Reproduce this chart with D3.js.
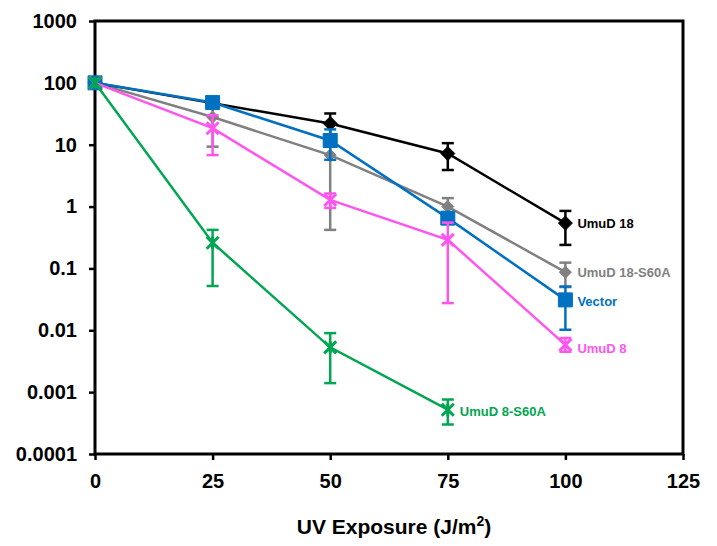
<!DOCTYPE html>
<html>
<head>
<meta charset="utf-8">
<script src="https://cdn.jsdelivr.net/npm/d3@7"></script>
<style>
  body { margin: 0; background: #fff; }
  text { font-family: "Liberation Sans", Arial, sans-serif; font-weight: bold; }
</style>
</head>
<body>
<svg id="chart" width="717" height="546"></svg>
<script>
// UV dose (J/m2)
const doses = [0, 25, 50, 75, 100];
const xTicks = [0, 25, 50, 75, 100, 125];
const yTicks = [0.0001, 0.001, 0.01, 0.1, 1, 10, 100, 1000];
const yTickLabels = ["0.0001", "0.001", "0.01", "0.1", "1", "10", "100", "1000"];

// survival (%) and error bar ends, null where no bar shows
const umud18 = [100, 47, 22, 7.2, 0.54];
const umud18Hi = [null, null, 32, 10.6, 0.85];
const umud18Lo = [null, null, 12, 3.9, 0.24];

const umud18S60A = [100, 28, 6.8, 1.0, 0.087];
const umud18S60AHi = [null, 47, 13, 1.37, 0.124];
const umud18S60ALo = [null, 9.3, 0.42, 0.63, 0.05];

const vector = [100, 48, 11.7, 0.65, 0.031];
const vectorHi = [null, null, 17.7, null, 0.051];
const vectorLo = [null, null, 5.7, null, 0.0102];

const umud8 = [100, 18.5, 1.28, 0.29, 0.0058];
const umud8Hi = [null, 30, 1.63, 0.55, 0.0075];
const umud8Lo = [null, 6.8, 0.95, 0.0275, 0.0045];

const umud8S60A = [100, 0.26, 0.0053, 0.00052];
const umud8S60AHi = [null, 0.42, 0.009, 0.00076];
const umud8S60ALo = [null, 0.052, 0.0014, 0.0003];

const width = 717, height = 546;
const margin = { top: 21, right: 34, bottom: 92, left: 95 };

const svg = d3.select("#chart");

const x = d3.scaleLinear()
  .domain([0, 125])
  .range([margin.left, width - margin.right]);

const y = d3.scaleLog()
  .domain([0.0001, 1000])
  .range([height - margin.bottom, margin.top]);

// series setup (drawing order matters for overlaps)
const series = [
  { name: "UmuD 18-S60A", values: umud18S60A, hi: umud18S60AHi, lo: umud18S60ALo, color: "#808080", marker: "diamond", size: 12, labelDy: 1 },
  { name: "UmuD 18", values: umud18, hi: umud18Hi, lo: umud18Lo, color: "#000000", marker: "diamond", size: 14, labelDy: 1 },
  { name: "Vector", values: vector, hi: vectorHi, lo: vectorLo, color: "#0070C0", marker: "square", size: 14, labelDy: 3 },
  { name: "UmuD 8", values: umud8, hi: umud8Hi, lo: umud8Lo, color: "#FF55EE", marker: "x", size: 12, labelDy: 5 },
  { name: "UmuD 8-S60A", values: umud8S60A, hi: umud8S60AHi, lo: umud8S60ALo, color: "#00A651", marker: "star", size: 12, labelDy: 3 }
];

// axes
const yAxis = d3.axisLeft(y)
  .tickValues(yTicks)
  .tickFormat((d, i) => yTickLabels[i])
  .tickSize(6)
  .tickPadding(12);

const xAxis = d3.axisBottom(x)
  .tickValues(xTicks)
  .tickFormat(d3.format("d"))
  .tickSize(6)
  .tickPadding(14);

const gy = svg.append("g")
  .attr("transform", `translate(${margin.left},0)`)
  .call(yAxis);

const gx = svg.append("g")
  .attr("transform", `translate(0,${height - margin.bottom})`)
  .call(xAxis);

[gx, gy].forEach(g => {
  g.select(".domain").remove();
  g.selectAll(".tick line").attr("stroke", "#000").attr("stroke-width", 2.5);
  g.selectAll(".tick text")
    .attr("fill", "#000")
    .style("font-size", "20px");
});

// plot frame
svg.append("rect")
  .attr("x", margin.left)
  .attr("y", margin.top)
  .attr("width", width - margin.left - margin.right)
  .attr("height", height - margin.top - margin.bottom)
  .attr("fill", "none")
  .attr("stroke", "#000")
  .attr("stroke-width", 3);

// axis title
const title = svg.append("text")
  .attr("x", (margin.left + width - margin.right) / 2 + 5)
  .attr("y", 534)
  .attr("text-anchor", "middle")
  .attr("fill", "#000")
  .style("font-size", "21px");
title.append("tspan").text("UV Exposure (J/m");
title.append("tspan").attr("dy", -8).style("font-size", "14px").text("2");
title.append("tspan").attr("dy", 8).text(")");

const line = d3.line()
  .x(d => x(d.dose))
  .y(d => y(d.value));

const markerPath = (type, s) => {
  const h = s / 2;
  if (type === "square") return `M${-h},${-h}H${h}V${h}H${-h}Z`;
  if (type === "diamond") return `M0,${-h}L${h},0L0,${h}L${-h},0Z`;
  if (type === "x") return `M${-h},${-h}L${h},${h}M${h},${-h}L${-h},${h}`;
  return `M${-h},${-h}L${h},${h}M${h},${-h}L${-h},${h}M0,${-h}V${h}`;
};

const capW = 6;

series.forEach(s => {
  const pts = s.values.map((v, i) => ({ dose: doses[i], value: v, hi: s.hi[i], lo: s.lo[i] }));
  const g = svg.append("g");

  // error bars
  const err = g.append("g")
    .attr("stroke", s.color)
    .attr("stroke-width", 2.5)
    .selectAll("g")
    .data(pts.filter(d => d.hi !== null))
    .join("g");

  err.append("line")
    .attr("x1", d => x(d.dose))
    .attr("x2", d => x(d.dose))
    .attr("y1", d => y(d.hi))
    .attr("y2", d => y(d.lo));
  err.append("line")
    .attr("x1", d => x(d.dose) - capW)
    .attr("x2", d => x(d.dose) + capW)
    .attr("y1", d => y(d.hi))
    .attr("y2", d => y(d.hi));
  err.append("line")
    .attr("x1", d => x(d.dose) - capW)
    .attr("x2", d => x(d.dose) + capW)
    .attr("y1", d => y(d.lo))
    .attr("y2", d => y(d.lo));

  g.append("path")
    .datum(pts)
    .attr("fill", "none")
    .attr("stroke", s.color)
    .attr("stroke-width", 2.5)
    .attr("d", line);

  const filled = s.marker === "square" || s.marker === "diamond";
  g.append("g")
    .selectAll("path")
    .data(pts)
    .join("path")
    .attr("transform", d => `translate(${x(d.dose)},${y(d.value)})`)
    .attr("d", markerPath(s.marker, s.size))
    .attr("fill", filled ? s.color : "none")
    .attr("stroke", s.color)
    .attr("stroke-width", filled ? 1 : 3)
    .attr("stroke-linejoin", "round");

  const last = pts[pts.length - 1];
  g.append("text")
    .attr("x", x(last.dose) + 12)
    .attr("y", y(last.value) + s.labelDy)
    .attr("dominant-baseline", "middle")
    .attr("fill", s.color)
    .style("font-size", "13px")
    .text(s.name);
});
</script>
</body>
</html>
